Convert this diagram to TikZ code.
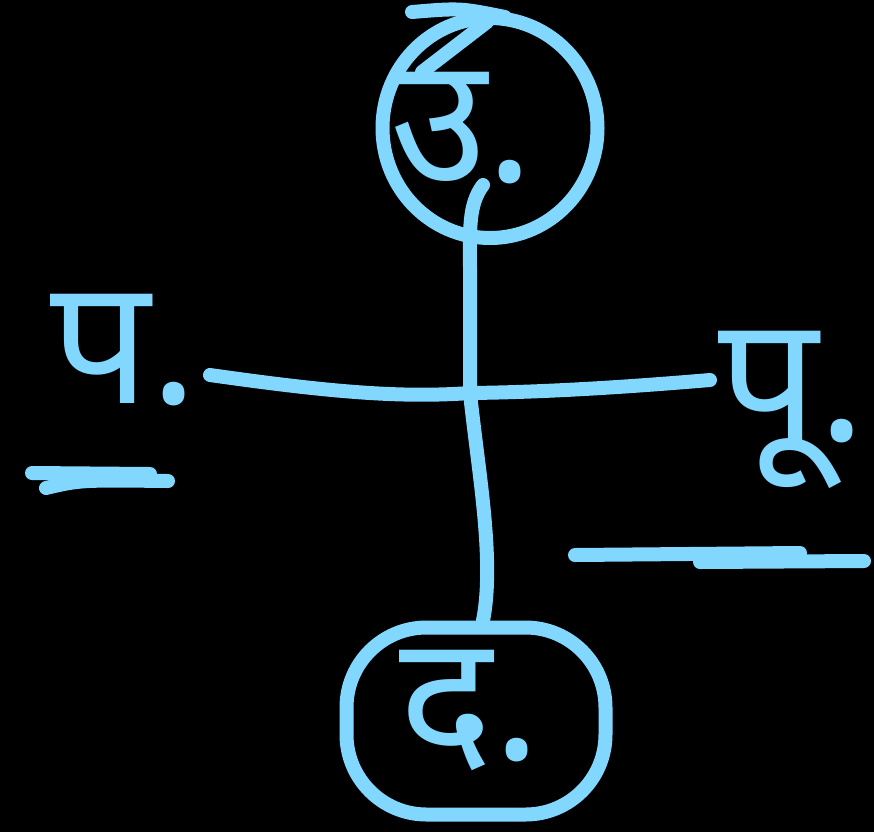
\documentclass[tikz,border=0pt]{standalone}
\usepackage{fontspec}
\newfontfamily\hindi[Script=Devanagari]{Noto Sans}
\usetikzlibrary{shapes.geometric,positioning}
\definecolor{chalkblue}{RGB}{130,215,255}
\tikzset{
  pen/.style={draw=chalkblue, line width=2.8mm, line cap=round, line join=round},
  ring/.style={pen, inner sep=0pt},
  dirtext/.style={text=chalkblue, inner sep=0pt,
                  font=\hindi\bfseries\fontsize{100}{100}\selectfont},
}
\begin{document}
\begin{tikzpicture}[x=0.2mm, y=-0.2mm]
  \fill[black] (0,0) rectangle (874,832);
  \useasboundingbox (0,0) rectangle (874,832);
  % rings
  \node[ring, ellipse, minimum width=43mm, minimum height=44mm] (north) at (490,128) {};
  \node[ring, rectangle, rounded corners=16mm, minimum width=51.8mm, minimum height=37.4mm] (south) at (476,721) {};
  % labels
  \node[dirtext] (utext) at (462,128) {उ.};
  \node[dirtext] (dtext) at (470,710) {द.};
  \node[dirtext] (west) at (124,350) {प.};
  \node[dirtext] (east) at (792,410) {पू.};
  % cross
  \coordinate (hub) at (470,393);
  \coordinate (ntail) at (483,185);
  \coordinate (wend) at (210,375);
  \coordinate (eend) at (710,380);
  \draw[pen] (wend) .. controls (330,392) and (400,398) .. (hub)
             .. controls (560,392) and (650,385) .. (eend);
  \draw[pen] (ntail) .. controls (468,205) and (470,230) .. (470,270) -- (hub)
             .. controls (478,470) and (495,560) .. ([xshift=1.4mm]south.north);
  % strokes on top of north ring
  \draw[pen] (412,12) .. controls (460,8) .. (505,17);
  \draw[pen] (487,22) -- (422,72);
  % underlines
  \draw[pen] (32,473) -- (150,474);
  \draw[pen] (46,488) .. controls (80,480) .. (168,481);
  \draw[pen] (575,555) -- (800,553);
  \draw[pen] (700,562) -- (864,561);
\end{tikzpicture}
\end{document}
